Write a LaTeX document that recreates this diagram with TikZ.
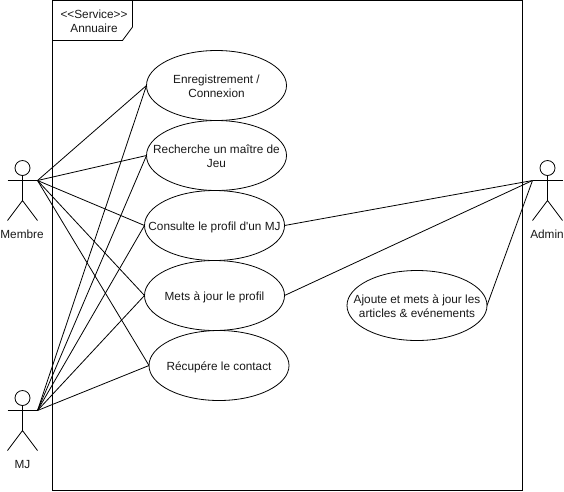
\documentclass[tikz,border=0pt]{standalone}
\usepackage{fontspec}
\newfontfamily\diagramfont{Liberation Sans}
\usetikzlibrary{shapes.geometric}
\tikzset{
  usecase/.style={ellipse,draw=black,fill=white,line width=0.8pt,minimum width=140pt,minimum height=70pt,inner sep=0pt,outer sep=0pt,font=\diagramfont\fontsize{11.8}{14}\selectfont,text=black!90},
  label/.style={inner sep=0pt,align=center,font=\diagramfont\fontsize{11.8}{14}\selectfont,text=black!90},
  figure/.style={draw=black,line width=0.8pt},
  link/.style={draw=black,line width=0.8pt},
}
\newcommand{\uctext}[1]{\makebox[0pt]{\raisebox{-4.8pt}[0pt][0pt]{\begin{tabular}{@{}c@{}}#1\end{tabular}}}}
\begin{document}
\begin{tikzpicture}[x=1pt,y=-1pt]
\useasboundingbox (0,0) rectangle (564,491);
% frame
\draw[figure] (52.5,0.5) rectangle (522.5,490.5);
\draw[figure] (52.5,40.5) -- (122.5,40.5) -- (132.5,27) -- (132.5,0.5);
\node[label] (tab) at (94,21.5) {<<Service>>\\Annuaire};
% connection points of the actors
\coordinate (membre) at (37.5,180.5);
\coordinate (mj) at (37.5,410.5);
\coordinate (admin) at (532.5,180.5);
% use cases
\node[usecase] (e1) at (216.5,85.5) {\uctext{Enregistrement /\\Connexion}};
\node[usecase] (e2) at (216.5,155.5) {\uctext{Recherche un maître de\\Jeu}};
\node[usecase] (e3) at (214.5,225.5) {\uctext{Consulte le profil d'un MJ}};
\node[usecase] (e4) at (214.5,295.5) {\uctext{Mets à jour le profil}};
\node[usecase] (e5) at (219,365.5) {\uctext{Récupére le contact}};
\node[usecase] (e6) at (417,305.5) {\uctext{Ajoute et mets à jour les\\articles \& evénements}};
% connectors
\foreach \e in {e1,e2,e3,e4,e5}{
  \draw[link] (membre) -- (\e.west);
  \draw[link] (mj) -- (\e.west);
}
\foreach \e in {e3,e4,e6}{
  \draw[link] (admin) -- (\e.east);
}
% actors
\foreach \ax/\ay in {22.5/0,22.5/230,547.5/0}{
  \draw[figure] (\ax,168+\ay) circle[radius=7.5];
  \draw[figure] (\ax,175.5+\ay) -- (\ax,200.5+\ay);
  \draw[figure] (\ax-15,180.5+\ay) -- (\ax+15,180.5+\ay);
  \draw[figure] (\ax-15,220.5+\ay) -- (\ax,200.5+\ay) -- (\ax+15,220.5+\ay);
}
\node[label] (lmembre) at (22,234.5) {Membre};
\node[label] (lmj) at (22.5,464.5) {MJ};
\node[label] (ladmin) at (547,234.5) {Admin};
\end{tikzpicture}
\end{document}
